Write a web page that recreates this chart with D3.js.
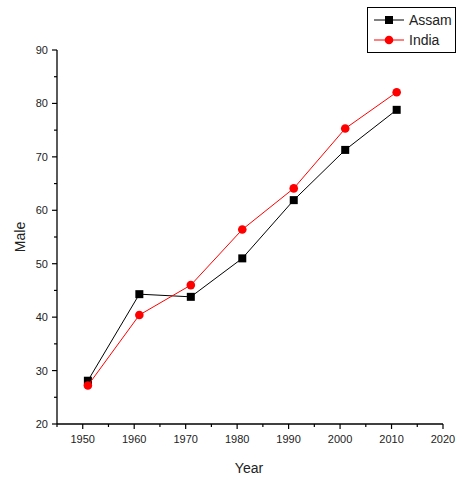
<!DOCTYPE html>
<html>
<head>
<meta charset="utf-8">
<script src="https://cdn.jsdelivr.net/npm/d3@7"></script>
<style>
  body { margin: 0; background: #fff; }
  text { font-family: "Liberation Sans", Arial, sans-serif; fill: #222; }
</style>
</head>
<body>
<div id="chart"></div>
<script>
// 数据
const years = [1951, 1961, 1971, 1981, 1991, 2001, 2011];
const assam = [28.1, 44.3, 43.8, 51.0, 61.9, 71.3, 78.8];
const india = [27.2, 40.4, 46.0, 56.4, 64.1, 75.3, 82.1];
const xTicks = [1950, 1960, 1970, 1980, 1990, 2000, 2010, 2020];
const yTicks = [20, 30, 40, 50, 60, 70, 80, 90];

const width = 457, height = 479;
const svg = d3.select("#chart").append("svg")
    .attr("width", width)
    .attr("height", height);

const x = d3.scaleLinear().domain([1945, 2020]).range([57, 443]);
const y = d3.scaleLinear().domain([20, 90]).range([424, 50]);

// X轴
const xAxis = svg.append("g").attr("transform", `translate(0,${y(20)})`);
xAxis.append("line")
    .attr("x1", x(1945)).attr("x2", x(2020))
    .attr("stroke", "#000").attr("stroke-width", 1.3);
d3.range(1945, 2021, 5).forEach(t => {
    const major = t % 10 === 0;
    xAxis.append("line")
        .attr("x1", x(t)).attr("x2", x(t))
        .attr("y1", 0).attr("y2", major ? 5 : 3)
        .attr("stroke", "#000").attr("stroke-width", 1.2);
});
xTicks.forEach(t => {
    xAxis.append("text")
        .attr("x", x(t)).attr("y", 19)
        .attr("text-anchor", "middle")
        .attr("font-size", 11)
        .text(t);
});

// Y轴
const yAxis = svg.append("g").attr("transform", `translate(${x(1945)},0)`);
yAxis.append("line")
    .attr("y1", y(20)).attr("y2", y(90))
    .attr("stroke", "#000").attr("stroke-width", 1.3);
d3.range(20, 91, 5).forEach(t => {
    const major = t % 10 === 0;
    yAxis.append("line")
        .attr("x1", 0).attr("x2", major ? -5 : -3)
        .attr("y1", y(t)).attr("y2", y(t))
        .attr("stroke", "#000").attr("stroke-width", 1.2);
});
yTicks.forEach(t => {
    yAxis.append("text")
        .attr("x", -9).attr("y", y(t))
        .attr("text-anchor", "end")
        .attr("dominant-baseline", "central")
        .attr("font-size", 11)
        .text(t);
});

// 轴标题
svg.append("text")
    .attr("x", 249).attr("y", 473)
    .attr("text-anchor", "middle")
    .attr("font-size", 14)
    .text("Year");
svg.append("text")
    .attr("transform", `translate(25,${y(55)}) rotate(-90)`)
    .attr("text-anchor", "middle")
    .attr("font-size", 14)
    .text("Male");

// 折线
const series = [
    {name: "Assam", values: assam, color: "#000000", shape: "square"},
    {name: "India", values: india, color: "#ff0000", shape: "circle"}
];
const line = d3.line().x((d, i) => x(years[i])).y(d => y(d));

function drawMarker(g, cx, cy, s) {
    if (s.shape === "square") {
        g.append("rect")
            .attr("x", cx - 4).attr("y", cy - 4)
            .attr("width", 8).attr("height", 8)
            .attr("fill", s.color);
    } else {
        g.append("circle")
            .attr("cx", cx).attr("cy", cy).attr("r", 4.3)
            .attr("fill", s.color);
    }
}

series.forEach(s => {
    svg.append("path")
        .attr("d", line(s.values))
        .attr("fill", "none")
        .attr("stroke", s.color)
        .attr("stroke-width", 1);
    const g = svg.append("g");
    s.values.forEach((v, i) => drawMarker(g, x(years[i]), y(v), s));
});

// 图例
const legend = svg.append("g");
legend.append("rect")
    .attr("x", 367.5).attr("y", 7.5)
    .attr("width", 88).attr("height", 45)
    .attr("fill", "#fff").attr("stroke", "#000").attr("stroke-width", 1);
series.forEach((s, i) => {
    const cy = 20 + i * 20;
    legend.append("line")
        .attr("x1", 374).attr("x2", 404)
        .attr("y1", cy).attr("y2", cy)
        .attr("stroke", s.color).attr("stroke-width", 1);
    drawMarker(legend, 389, cy, s);
    legend.append("text")
        .attr("x", 409).attr("y", cy)
        .attr("dominant-baseline", "central")
        .attr("font-size", 14)
        .text(s.name);
});
</script>
</body>
</html>
